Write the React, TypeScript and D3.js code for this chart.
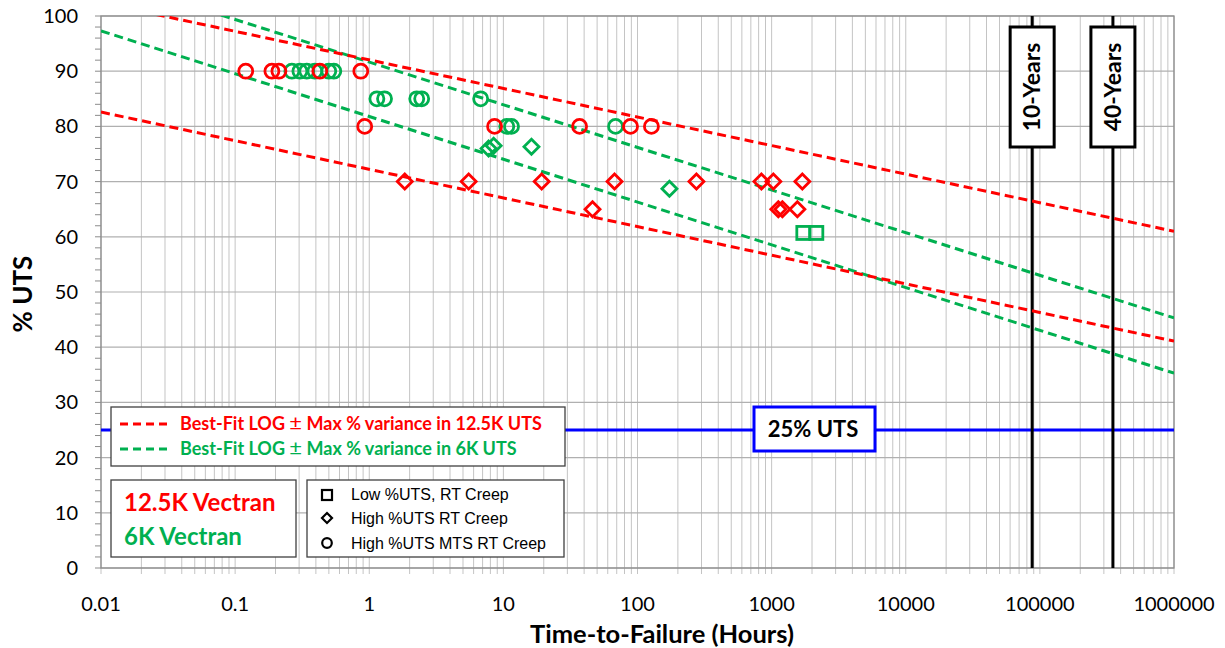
import React from 'react';
import * as d3 from 'd3';

// time-to-failure (hours) and %UTS
const redCircleHours = [0.12, 0.188, 0.212, 0.428, 0.865, 0.925, 8.6, 37, 88.7, 127];
const redCircleUTS = [90, 90, 90, 90, 90, 80, 80, 80, 80, 80];
const greenCircleHours = [0.265, 0.304, 0.342, 0.393, 0.499, 0.544, 1.14, 1.3, 2.26, 2.46, 6.77, 10.6, 11.5, 68.6];
const greenCircleUTS = [90, 90, 90, 90, 90, 90, 85, 85, 85, 85, 85, 80, 80, 80];
const redDiamondHours = [1.84, 5.51, 19.3, 67.4, 275, 839, 1030, 1694, 46.2, 1122, 1203, 1556];
const redDiamondUTS = [70, 70, 70, 70, 70, 70, 70, 70, 65, 65, 65, 65];
const greenDiamondHours = [7.76, 8.46, 16.2, 173];
const greenDiamondUTS = [76, 76.5, 76.3, 68.7];
const greenSquareHours = [1723, 2154];
const greenSquareUTS = [60.7, 60.7];

// best-fit band edges, value at 0.01 h and at 1e6 h
const fitHours = [0.01, 1e6];
const redUpper = [102.4, 61.0];
const redLower = [82.6, 41.1];
const greenUpper = [107.1, 45.3];
const greenLower = [97.3, 35.3];

const xTickLabels = ['0.01', '0.1', '1', '10', '100', '1000', '10000', '100000', '1000000'];
const yTickValues = [0, 10, 20, 30, 40, 50, 60, 70, 80, 90, 100];

const yearLines = [
  { hours: 87600, label: '10-Years' },
  { hours: 350400, label: '40-Years' },
];
const utsLine = 25;

const RED = '#ff0000';
const GREEN = '#00b050';
const CAL = 'Lato, "Open Sans", sans-serif';
const ARIAL = '"Liberation Sans", Arial, sans-serif';

const margin = { left: 101, right: 1174, top: 16, bottom: 568 };

const App: React.FC = () => {
  const x = d3.scaleLog().domain([0.01, 1e6]).range([margin.left, margin.right]);
  const y = d3.scaleLinear().domain([0, 100]).range([margin.bottom, margin.top]);

  const minorX: number[] = [];
  for (let e = -2; e < 6; e++) {
    for (let m = 1; m < 10; m++) minorX.push(m * Math.pow(10, e));
  }
  minorX.push(1e6);
  const minorY = d3.range(0, 101, 2);

  const line = d3.line<number>().x((_, i) => x(fitHours[i])).y((d) => y(d));

  const circles = (hrs: number[], uts: number[], color: string) =>
    hrs.map((h, i) => (
      <circle key={color + 'c' + i} cx={x(h)} cy={y(uts[i])} r={7} fill="none" stroke={color} strokeWidth={2.8} />
    ));
  const diamonds = (hrs: number[], uts: number[], color: string) =>
    hrs.map((h, i) => {
      const cx = x(h), cy = y(uts[i]), s = 7.5;
      return (
        <path key={color + 'd' + i} d={`M${cx},${cy - s}L${cx + s},${cy}L${cx},${cy + s}L${cx - s},${cy}Z`} fill="none" stroke={color} strokeWidth={2.8} />
      );
    });
  const squares = (hrs: number[], uts: number[], color: string) =>
    hrs.map((h, i) => (
      <rect key={color + 's' + i} x={x(h) - 6.5} y={y(uts[i]) - 6.5} width={13} height={13} fill="none" stroke={color} strokeWidth={2.8} />
    ));

  return (
    <svg width={1225} height={648} style={{ position: 'absolute', left: 0, top: 0, background: '#fff' }}>
      <defs>
        <clipPath id="plot">
          <rect x={margin.left} y={margin.top} width={margin.right - margin.left} height={margin.bottom - margin.top} />
        </clipPath>
      </defs>

      {/* grid */}
      {minorX.map((v, i) => (
        <line key={'gx' + i} x1={x(v)} x2={x(v)} y1={margin.top} y2={margin.bottom + 6} stroke="#c4c4c4" strokeWidth={1} />
      ))}
      {yTickValues.map((v) => (
        <line key={'gy' + v} x1={margin.left} x2={margin.right} y1={y(v)} y2={y(v)} stroke="#b0b0b0" strokeWidth={1.2} />
      ))}
      {minorY.map((v) => (
        <line key={'ty' + v} x1={margin.left - 6} x2={margin.left} y1={y(v)} y2={y(v)} stroke="#8c8c8c" strokeWidth={1} />
      ))}
      <rect x={margin.left} y={margin.top} width={margin.right - margin.left} height={margin.bottom - margin.top} fill="none" stroke="#8c8c8c" strokeWidth={1.3} />

      {/* tick labels */}
      {xTickLabels.map((t) => (
        <text key={'xl' + t} x={x(+t)} y={611} textAnchor="middle" fontFamily={CAL} fontSize={20} fill="#000">{t}</text>
      ))}
      {yTickValues.map((v) => (
        <text key={'yl' + v} x={78} y={y(v) + 7} textAnchor="end" fontFamily={CAL} fontSize={20} fill="#000">{v}</text>
      ))}

      {/* axis titles */}
      <text x={662} y={643} textAnchor="middle" fontFamily={CAL} fontWeight="bold" fontSize={25.5} fill="#000">Time-to-Failure (Hours)</text>
      <text transform={`translate(32,${y(50) + 2}) rotate(-90)`} textAnchor="middle" fontFamily={CAL} fontWeight="bold" fontSize={26} fill="#000">% UTS</text>

      {/* 25% UTS line */}
      <line x1={margin.left} x2={margin.right} y1={y(utsLine)} y2={y(utsLine)} stroke="#0000ff" strokeWidth={3} />

      {/* year lines */}
      {yearLines.map((yl) => (
        <line key={yl.label} x1={x(yl.hours)} x2={x(yl.hours)} y1={margin.top} y2={margin.bottom} stroke="#000" strokeWidth={3} />
      ))}

      {/* fit lines */}
      <g clipPath="url(#plot)" fill="none" strokeWidth={3} strokeDasharray="9,5">
        <path d={line(greenUpper) ?? ''} stroke={GREEN} />
        <path d={line(greenLower) ?? ''} stroke={GREEN} />
        <path d={line(redUpper) ?? ''} stroke={RED} />
        <path d={line(redLower) ?? ''} stroke={RED} />
      </g>

      {/* points */}
      <g>
        {squares(greenSquareHours, greenSquareUTS, GREEN)}
        {diamonds(greenDiamondHours, greenDiamondUTS, GREEN)}
        {circles(greenCircleHours, greenCircleUTS, GREEN)}
        {diamonds(redDiamondHours, redDiamondUTS, RED)}
        {circles(redCircleHours, redCircleUTS, RED)}
      </g>

      {/* year labels */}
      {yearLines.map((yl) => {
        const cx = x(yl.hours);
        return (
          <g key={'b' + yl.label}>
            <rect x={cx - 22} y={27} width={44} height={120} fill="#fff" stroke="#000" strokeWidth={3} />
            <text transform={`translate(${cx + 8},87) rotate(-90)`} textAnchor="middle" fontFamily={CAL} fontWeight="bold" fontSize={23} fill="#000">{yl.label}</text>
          </g>
        );
      })}

      {/* 25% label */}
      <rect x={754} y={407} width={121} height={44} fill="#fff" stroke="#0000ff" strokeWidth={3} />
      <text x={813} y={437} textAnchor="middle" fontFamily={CAL} fontWeight="bold" fontSize={22} fill="#000">25% UTS</text>

      {/* fit legend */}
      <rect x={111} y={407} width={454} height={59} fill="#fff" stroke="#404040" strokeWidth={1.3} />
      <line x1={120} x2={168} y1={424} y2={424} stroke={RED} strokeWidth={3} strokeDasharray="8,5" />
      <line x1={120} x2={168} y1={449} y2={449} stroke={GREEN} strokeWidth={3} strokeDasharray="8,5" />
      <text x={180} y={430} fontFamily={CAL} fontWeight="bold" fontSize={18} fill={RED}>Best-Fit LOG <tspan fontWeight="normal" fontSize={22}>±</tspan> Max % variance in 12.5K UTS</text>
      <text x={180} y={455} fontFamily={CAL} fontWeight="bold" fontSize={18} fill={GREEN}>Best-Fit LOG <tspan fontWeight="normal" fontSize={22}>±</tspan> Max % variance in 6K UTS</text>

      {/* material legend */}
      <rect x={111} y={480} width={185} height={77} fill="#fff" stroke="#404040" strokeWidth={1.3} />
      <text x={124} y={511} fontFamily={CAL} fontWeight="bold" fontSize={24} fill={RED}>12.5K Vectran</text>
      <text x={124} y={545} fontFamily={CAL} fontWeight="bold" fontSize={24} fill={GREEN}>6K Vectran</text>

      {/* marker legend */}
      <rect x={307} y={480} width={257} height={77} fill="#fff" stroke="#404040" strokeWidth={1.3} />
      <rect x={322} y={490} width={10} height={10} fill="none" stroke="#000" strokeWidth={2.2} />
      <path d="M327,513L332,518L327,523L322,518Z" fill="none" stroke="#000" strokeWidth={2.2} />
      <circle cx={327} cy={543} r={4.8} fill="none" stroke="#000" strokeWidth={2.2} />
      <text x={351} y={500} fontFamily={ARIAL} fontSize={16} fill="#000">Low %UTS, RT Creep</text>
      <text x={351} y={524} fontFamily={ARIAL} fontSize={16} fill="#000">High %UTS RT Creep</text>
      <text x={351} y={549} fontFamily={ARIAL} fontSize={16} fill="#000">High %UTS MTS RT Creep</text>
    </svg>
  );
};

export default App;
